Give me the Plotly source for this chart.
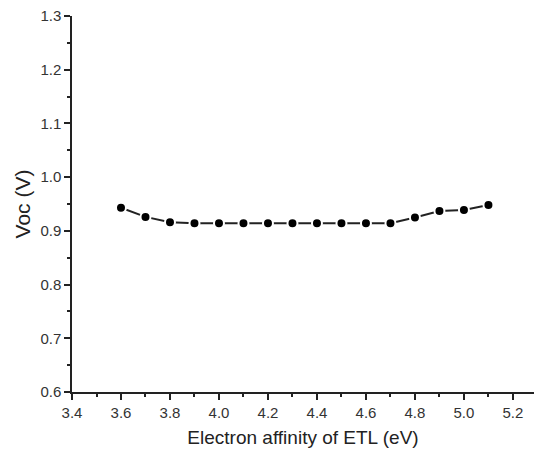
import plotly.graph_objects as go

affinity = [3.6, 3.7, 3.8, 3.9, 4.0, 4.1, 4.2, 4.3, 4.4, 4.5, 4.6, 4.7, 4.8, 4.9, 5.0, 5.1]
voc = [0.943, 0.926, 0.916, 0.914, 0.914, 0.914, 0.914, 0.914, 0.914, 0.914, 0.914, 0.914, 0.925, 0.937, 0.939, 0.948]

x_ticks = [3.4, 3.6, 3.8, 4.0, 4.2, 4.4, 4.6, 4.8, 5.0, 5.2]
y_ticks = [0.6, 0.7, 0.8, 0.9, 1.0, 1.1, 1.2, 1.3]

fig = go.Figure()
fig.add_trace(go.Scatter(
    x=affinity, y=voc, mode="lines+markers",
    line=dict(color="#222", width=2),
    marker=dict(color="black", size=10, line=dict(color="white", width=2)),
    showlegend=False,
))

axis_font = dict(family="Liberation Sans, Arial", size=15, color="#333")
fig.update_layout(
    width=534, height=455,
    margin=dict(l=72, r=0, t=16, b=63),
    paper_bgcolor="white", plot_bgcolor="white",
    font=dict(family="Liberation Sans, Arial", color="#222"),
    xaxis=dict(
        range=[3.4, 5.286], tickvals=x_ticks, ticktext=[f"{v:.1f}" for v in x_ticks],
        showgrid=False, zeroline=False, showline=True, linecolor="#222", linewidth=1.5,
        ticks="outside", ticklen=6, tickwidth=1.5, tickcolor="#222",
        minor=dict(dtick=0.1, tick0=3.4, ticks="outside", ticklen=3, tickwidth=1.5, tickcolor="#222"),
        tickfont=axis_font,
        title=dict(text="Electron affinity of ETL (eV)", font=dict(size=19, color="#222"), standoff=11),
    ),
    yaxis=dict(
        range=[0.6, 1.3], tickvals=y_ticks, ticktext=[f"{v:.1f}" for v in y_ticks],
        showgrid=False, zeroline=False, showline=True, linecolor="#222", linewidth=1.5,
        ticks="outside", ticklen=6, tickwidth=1.5, tickcolor="#222",
        minor=dict(dtick=0.05, tick0=0.6, ticks="outside", ticklen=3, tickwidth=1.5, tickcolor="#222"),
        tickfont=axis_font,
        title=dict(text="Voc (V)", font=dict(size=21, color="#222"), standoff=4),
    ),
)

fig.write_html("out.html")
